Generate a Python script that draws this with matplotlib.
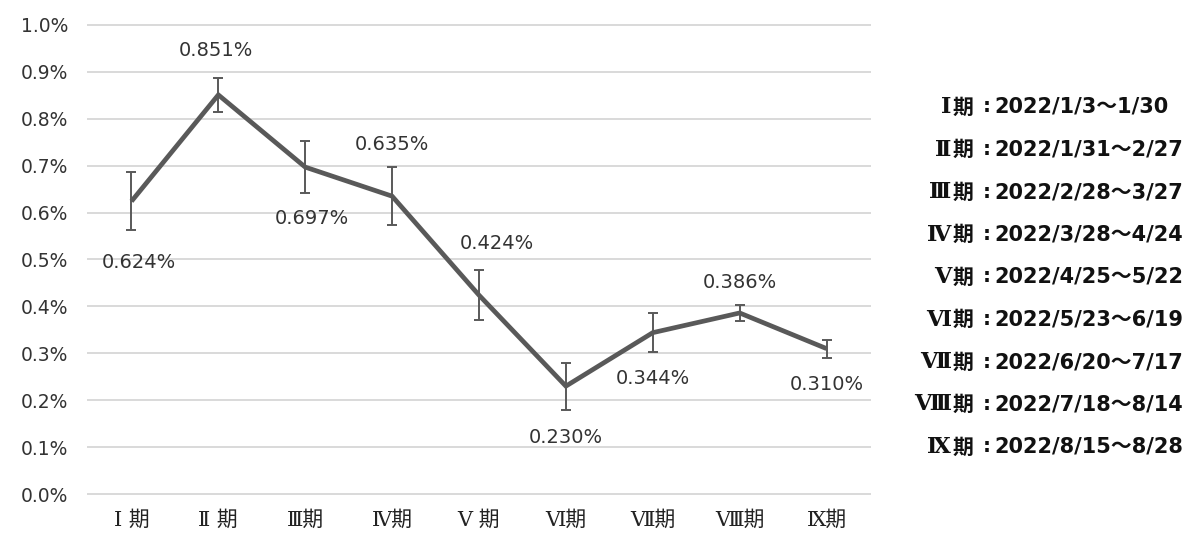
import matplotlib
matplotlib.use("Agg")
import matplotlib.pyplot as plt
from matplotlib.ticker import FuncFormatter, MultipleLocator

# ---- data ----
periods = ["Ⅰ 期", "Ⅱ 期", "Ⅲ期", "Ⅳ期", "Ⅴ 期", "Ⅵ期", "Ⅶ期", "Ⅷ期", "Ⅸ期"]
romans = ["Ⅰ", "Ⅱ", "Ⅲ", "Ⅳ", "Ⅴ", "Ⅵ", "Ⅶ", "Ⅷ", "Ⅸ"]
values = [0.624, 0.851, 0.697, 0.635, 0.424, 0.230, 0.344, 0.386, 0.310]   # percent
errors = [0.062, 0.037, 0.056, 0.062, 0.053, 0.050, 0.041, 0.018, 0.019]   # percent
date_ranges = ["2022/1/3～1/30", "2022/1/31～2/27", "2022/2/28～3/27",
               "2022/3/28～4/24", "2022/4/25～5/22", "2022/5/23～6/19",
               "2022/6/20～7/17", "2022/7/18～8/14", "2022/8/15～8/28"]
# label offsets (points) relative to each data point
label_offsets = [(5, -44), (-2, 32), (5, -37), (0, 37), (13, 37),
                 (0, -37), (0, -33), (0, 22), (0, -26)]

plt.rcParams['font.family'] = ['DejaVu Sans', 'Noto Sans CJK JP']

W, H = 1191, 544
fig = plt.figure(figsize=(W / 100, H / 100), dpi=100)
ax = fig.add_axes([88 / W, 1 - 494 / H, (870 - 88) / W, (494 - 25) / H])

x = list(range(len(values)))
ax.errorbar(x, values, yerr=errors, color="#595959", lw=3.4,
            elinewidth=1.4, capsize=3.5, capthick=1.4, zorder=3,
            solid_capstyle='butt', solid_joinstyle='miter')

for xi, v, (dx, dy) in zip(x, values, label_offsets):
    ax.annotate(f"{v:.3f}%", (xi, v), xytext=(dx, dy), textcoords="offset points",
                ha="center", va="center", fontsize=14, color="#333333")

ax.set_xlim(-0.5, len(values) - 0.5)
ax.set_ylim(0, 1.0)
ax.yaxis.set_major_locator(MultipleLocator(0.1))
ax.yaxis.set_major_formatter(FuncFormatter(lambda v, p: f"{v:.1f}%"))
ax.grid(axis="y", color="#d9d9d9", lw=1.4, zorder=0)
for gl in ax.get_ygridlines():
    gl.set_clip_on(False)
ax.set_axisbelow(True)
for s in ax.spines.values():
    s.set_visible(False)
ax.tick_params(axis="both", length=0, labelsize=13.5, labelcolor="#333333")
ax.tick_params(axis="y", pad=14)
ax.tick_params(axis="x", pad=12)
ax.set_xticks(x)
ax.set_xticklabels(periods, family=['DejaVu Serif', 'Noto Sans CJK JP'],
                   fontsize=15, color="#222222")

# right-side period legend
y0 = 107
step = 42.5
for i, (r, d) in enumerate(zip(romans, date_ranges)):
    yy = 1 - (y0 + i * step) / H
    fig.text(951 / W, yy, r, ha="right", va="center", fontsize=16,
             fontweight="bold", family=['DejaVu Serif', 'Noto Sans CJK JP'], color="#111111")
    fig.text(953 / W, yy, "期", ha="left", va="center", fontsize=15,
             fontweight="bold", family=['Noto Sans CJK JP'], color="#111111")
    fig.text(987 / W, yy, ":", ha="center", va="center", fontsize=14.5,
             fontweight="bold", family=['DejaVu Sans'], color="#111111")
    fig.text(994 / W, yy, d, ha="left", va="center", fontsize=15,
             fontweight="bold", family=['DejaVu Sans', 'Noto Sans CJK JP'], color="#111111")

fig.savefig("out.png", dpi=100, facecolor="white")
